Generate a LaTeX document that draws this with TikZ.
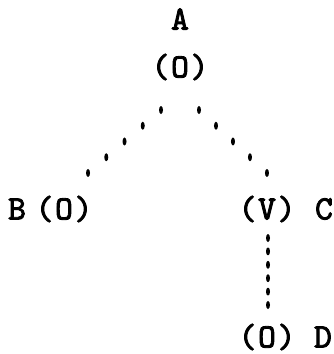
\documentclass[tikz,border=0pt]{standalone}
\usepackage{fontspec}
\newfontfamily\twfont{lmmono10-regular.otf}[FakeBold=2.5]
\usetikzlibrary{decorations.markings,calc}
\newcommand\tch[1]{\makebox[19.5pt]{#1}}
\tikzset{
  lbl/.style={inner sep=0pt, font={\twfont\fontsize{34}{36}\selectfont}},
  dotsfour/.style={decoration={markings,
     mark=between positions 0 and 1 step 0.25 with {\pgftransformresetnontranslations\fill (0,0) ellipse (2pt and 4pt);}},
     postaction=decorate},
  dotsfive/.style={decoration={markings,
     mark=between positions 0 and 1 step 0.2 with {\pgftransformresetnontranslations\fill (0,0) ellipse (2pt and 4pt);}},
     postaction=decorate}
}
\begin{document}
\begin{tikzpicture}[x=1pt,y=1pt]
\useasboundingbox[fill=white] (0,0) rectangle (333,-354);
\node[lbl] (A) at (180,-19) {A};
\node[lbl] (topO) at (180,-67) {\tch{(}\tch{O}\tch{)}};
\node[lbl] (B) at (17,-209) {B};
\node[lbl] (leftO) at (64,-209) {\tch{(}\tch{O}\tch{)}};
\node[lbl] (V) at (267,-209) {\tch{(}\tch{V}\tch{)}};
\node[lbl] (C) at (324,-209) {C};
\node[lbl] (botO) at (267,-337) {\tch{(}\tch{O}\tch{)}};
\node[lbl] (D) at (323,-337) {D};
\path[dotsfour] ($(topO)+(-19,-43)$) -- ($(leftO)+(24,36)$);
\path[dotsfour] ($(topO)+(19,-43)$) -- ($(V)+(0,36)$);
\path[dotsfive] ($(V)+(1,-29)$) -- ($(botO)+(1,32)$);
\end{tikzpicture}
\end{document}
